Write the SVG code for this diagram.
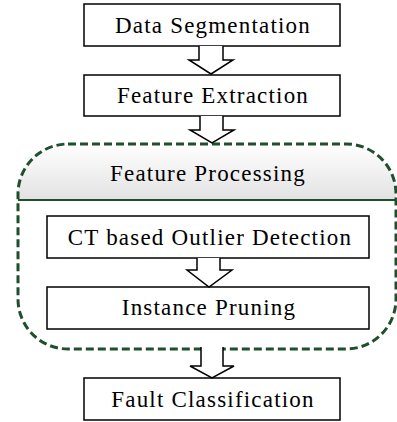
<svg xmlns="http://www.w3.org/2000/svg" width="397" height="422" viewBox="0 0 397 422">
<defs>
<linearGradient id="hdr" x1="0" y1="0" x2="0" y2="1">
<stop offset="0" stop-color="#ffffff"/>
<stop offset="1" stop-color="#e2e2e2"/>
</linearGradient>
<clipPath id="hclip"><rect x="18" y="144" width="378" height="205" rx="50" ry="50"/></clipPath>
<style>
.box{fill:#fff;stroke:#000;stroke-width:1.5}
.lbl{font-family:"Liberation Serif","Times New Roman",serif;font-size:23px;letter-spacing:1.2px;fill:#000;text-anchor:middle}
.arr{fill:#fff;stroke:#000;stroke-width:1.5;stroke-linejoin:miter}
.cont{fill:none;stroke:#1f4f2b;stroke-width:3;stroke-dasharray:8 4}
</style>
</defs>
<rect width="397" height="422" fill="#fff"/>
<g id="feature-processing">
<rect x="18" y="144" width="378" height="56" fill="url(#hdr)" clip-path="url(#hclip)"/>
<line x1="18" y1="200" x2="396" y2="200" stroke="#1f4f2b" stroke-width="2"/>
<rect class="cont" x="18" y="144" width="378" height="205" rx="50" ry="50"/>
<text class="lbl" x="208" y="181">Feature Processing</text>
</g>
<g id="data-segmentation">
<rect class="box" x="84" y="4" width="256" height="42"/>
<text class="lbl" x="213" y="33">Data Segmentation</text>
</g>
<g id="feature-extraction">
<rect class="box" x="84" y="75" width="256" height="41"/>
<text class="lbl" x="213" y="103">Feature Extraction</text>
</g>
<g id="ct-outlier">
<rect class="box" x="47" y="216" width="322" height="42"/>
<text class="lbl" x="210" y="245">CT based Outlier Detection</text>
</g>
<g id="instance-pruning">
<rect class="box" x="47" y="287" width="322" height="42"/>
<text class="lbl" x="209" y="315">Instance Pruning</text>
</g>
<g id="fault-classification">
<rect class="box" x="84" y="378" width="256" height="42"/>
<text class="lbl" x="213" y="407">Fault Classification</text>
</g>
<g id="connectors">
<path class="arr" d="M199 46 V60 H189 L211 74 L233 60 H223 V46"/>
<path class="arr" d="M200 116 V130 H190 L212 143 L234 130 H223 V116"/>
<path class="arr" d="M197 258 V270 H187 L209 287 L232 270 H220 V258"/>
<path class="arr" d="M201 347 V366 H190 L212 378 L234 366 H223 V347"/>
</g>
</svg>
